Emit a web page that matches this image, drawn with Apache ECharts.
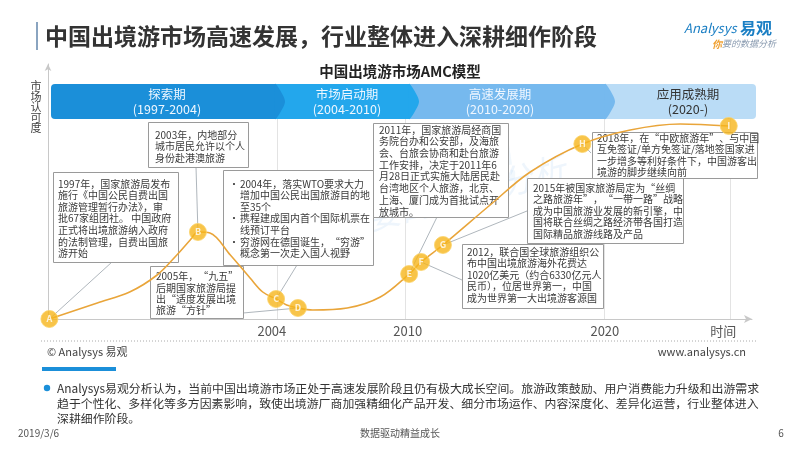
<!DOCTYPE html>
<html>
<head>
<meta charset="utf-8">
<script src="https://cdn.jsdelivr.net/npm/echarts@6/dist/echarts.min.js"></script>
<style>
html, body { margin: 0; padding: 0; background: #fff; }
#main { width: 800px; height: 450px; }
</style>
</head>
<body>
<div id="main"></div>
<script>
var FONT = '"Noto Sans CJK SC", "Noto Sans", sans-serif';

// AMC曲线 (横轴: 阶段位置 0-100, 纵轴: 市场认可度 0-100)
var curveX = [0.2, 7.0, 11.6, 15.5, 18.3, 20.2, 21.3, 23.0, 25.9, 28.7, 30.5, 32.4, 33.9, 35.5, 37.6, 42.5, 47.2, 51.3, 53.0, 56.1, 62.8, 68.5, 75.9, 82.7, 89.8, 96.7];
var curveY = [0, 8, 13.5, 22, 32, 39.5, 43.5, 43, 32, 20.5, 13.5, 10, 7, 5.5, 4.5, 5.5, 11, 22.5, 28.5, 37, 57, 73.5, 87.5, 94.5, 97.5, 96.5];

// 事件节点
var pointNames = ['A', 'B', 'C', 'D', 'E', 'F', 'G', 'H', 'I'];
var pointX = [0.2, 21.3, 32.4, 35.5, 51.3, 53.0, 56.1, 75.9, 96.7];
var pointY = [0, 43.5, 10, 5.5, 22.5, 28.5, 37, 87.5, 96.5];

// 横轴刻度
var tickPos = [31.8, 51.1, 79.1, 95.9];
var tickLabels = ['2004', '2010', '2020', '时间'];
var gridPos = [32.5, 50.7, 79.0, 96.9];

// 阶段
var stageNames = ['探索期', '市场启动期', '高速发展期', '应用成熟期'];
var stageYears = ['(1997-2004)', '(2004-2010)', '(2010-2020)', '(2020-)'];

// 注释文字
var notes = {
    A: ['1997年，国家旅游局发布', '施行《中国公民自费出国', '旅游管理暂行办法》，审', '批67家组团社。 中国政府', '正式将出境旅游纳入政府', '的法制管理，自费出国旅', '游开始'],
    B: ['2003年，内地部分', '城市居民允许以个人', '身份赴港澳旅游'],
    C: ['2004年，落实WTO要求大力', '增加中国公民出国旅游目的地', '至35个', '携程建成国内首个国际机票在', '线预订平台', '穷游网在德国诞生，“穷游”', '概念第一次走入国人视野'],
    D: ['2005年，“九五”', '后期国家旅游局提', '出“适度发展出境', '旅游“方针”'],
    E: ['2011年，国家旅游局经商国', '务院台办和公安部，及海旅', '会、台旅会协商和赴台旅游', '工作安排，决定于2011年6', '月28日正式实施大陆居民赴', '台湾地区个人旅游，北京、', '上海、厦门成为首批试点开', '放城市。'],
    F: ['2012，联合国全球旅游组织公', '布中国出境旅游海外花费达', '1020亿美元（约合6330亿元人', '民币），位居世界第一，中国', '成为世界第一大出境游客源国'],
    G: ['2015年被国家旅游局定为“丝绸', '之路旅游年”，“一带一路”战略', '成为中国旅游业发展的新引擎，中', '国将联合丝绸之路经济带各国打造', '国际精品旅游线路及产品'],
    H: ['2018年，在“中欧旅游年”、与中国', '互免签证/单方免签证/落地签国家进', '一步增多等利好条件下，中国游客出', '境游的脚步继续向前']
};
var bulletLines = { C: [0, 3, 5] };

var summaryLines = [
    'Analysys易观分析认为，当前中国出境游市场正处于高速发展阶段且仍有极大成长空间。旅游政策鼓励、用户消费能力升级和出游需求',
    '趋于个性化、多样化等多方因素影响，致使出境游厂商加强精细化产品开发、细分市场运作、内容深度化、差异化运营，行业整体进入',
    '深耕细作阶段。'
];

// 注释框布局
var boxLayout = {
    A: { x: 53, y: 172, w: 125, h: 90, tx: 58, ty: 178, lh: 11.6, anchor: [112, 262] },
    B: { x: 148, y: 122, w: 100, h: 45, tx: 155, ty: 129, lh: 11.6, anchor: [196, 167] },
    C: { x: 223, y: 170, w: 150, h: 95, tx: 240, ty: 178, lh: 11.6, anchor: [297, 265] },
    D: { x: 150, y: 266, w: 93, h: 52, tx: 156, ty: 271, lh: 11.2, anchor: [243, 313] },
    E: { x: 373, y: 123, w: 135, h: 94, tx: 379, ty: 124, lh: 11.7, anchor: [437, 217] },
    F: { x: 462, y: 244, w: 141, h: 64, tx: 467, ty: 246, lh: 11.6, anchor: [462, 280] },
    G: { x: 527, y: 178, w: 156, h: 65, tx: 533, ty: 182, lh: 11.6, anchor: [527, 211] },
    H: { x: 592, y: 132, w: 165, h: 46, tx: 597, ty: 132, lh: 11.6, anchor: [591, 153] }
};

var chart = echarts.init(document.getElementById('main'), null, { renderer: 'canvas' });

var gridLineData = gridPos.map(function (v) {
    return [{ coord: [v, 0] }, { coord: [v, 100] }];
});

chart.setOption({
    animation: false,
    textStyle: { fontFamily: FONT },
    grid: { left: 48, right: 48, top: 64, bottom: 131 },
    xAxis: {
        type: 'value', min: 0, max: 100,
        axisLine: { show: true, symbol: ['none', 'arrow'], symbolSize: [6, 8], lineStyle: { color: '#c8c8c8', width: 1 } },
        axisTick: { show: false },
        splitLine: { show: false },
        axisLabel: {
            customValues: tickPos,
            margin: 6,
            color: '#555', fontSize: 13, fontFamily: FONT,
            formatter: function (v) {
                var best = 0;
                for (var i = 1; i < tickPos.length; i++) {
                    if (Math.abs(tickPos[i] - v) < Math.abs(tickPos[best] - v)) best = i;
                }
                return tickLabels[best];
            }
        }
    },
    yAxis: {
        type: 'value', min: 0, max: 127.5,
        axisLine: { show: true, symbol: ['none', 'arrow'], symbolSize: [5, 7], lineStyle: { color: '#c8c8c8', width: 1 } },
        axisTick: { show: false },
        axisLabel: { show: false },
        splitLine: { show: false }
    },
    series: [{
        type: 'line',
        z: 5,
        smooth: 0.35,
        showSymbol: false,
        lineStyle: { color: '#e9a53a', width: 1.6 },
        data: curveX.map(function (x, i) { return [x, curveY[i]]; }),
        markLine: {
            z: 1, silent: true, symbol: 'none',
            label: { show: false },
            lineStyle: { color: '#e3e3e3', type: 'solid', width: 1 },
            data: gridLineData
        }
    }, {
        type: 'scatter',
        z: 6,
        symbolSize: 17,
        itemStyle: { color: '#f6b51b', borderColor: '#fbd36a', borderWidth: 1 },
        label: { show: true, position: 'inside', formatter: '{b}', color: '#fff', fontSize: 9, fontWeight: 'bold', fontFamily: FONT },
        data: pointNames.map(function (n, i) { return { name: n, value: [pointX[i], pointY[i]] }; })
    }]
});

var g = [];

// 标题
g.push({ type: 'rect', z: 2, shape: { x: 36, y: 22, width: 2, height: 28 }, style: { fill: '#8aa4c0' } });
g.push({ type: 'text', z: 2, x: 45, y: 36, style: { text: '中国出境游市场高速发展，行业整体进入深耕细作阶段', fill: '#333', font: 'bold 23px ' + FONT, textVerticalAlign: 'middle' } });
g.push({ type: 'text', z: 2, x: 684, y: 28, style: {
    text: '{a|Analysys} {b|易观}', textVerticalAlign: 'middle',
    rich: { a: { fill: '#1b7fc4', font: 'italic 13px ' + FONT }, b: { fill: '#1b7fc4', font: 'bold 16px ' + FONT } }
} });
g.push({ type: 'text', z: 2, x: 712, y: 44, style: {
    text: '{a|你}{b|要的数据分析}', textVerticalAlign: 'middle',
    rich: { a: { fill: '#f0a030', font: 'italic bold 10px ' + FONT }, b: { fill: '#8a9bb0', font: 'italic 9px ' + FONT } }
} });
g.push({ type: 'text', z: 2, x: 400, y: 71, style: { text: '中国出境游市场AMC模型', fill: '#222', font: 'bold 14.5px ' + FONT, textAlign: 'center', textVerticalAlign: 'middle' } });
g.push({ type: 'text', z: 2, x: 36, y: 107, style: { text: '市\n场\n认\n可\n度', fill: '#444', font: '11px ' + FONT, lineHeight: 10.5, textAlign: 'center', textVerticalAlign: 'middle' } });

// 水印
g.push({ type: 'text', z: 1, x: 330, y: 210, rotation: 0.25, style: { text: '你要的数据分析', fill: 'rgba(90,160,225,0.10)', font: 'italic 34px ' + FONT } });
g.push({ type: 'text', z: 1, x: 420, y: 150, rotation: 0.15, style: { text: '易观', fill: 'rgba(90,160,225,0.08)', font: 'bold 46px ' + FONT } });

// 阶段色带
var bandEdges = [51, 276, 410, 606, 756];
var bandColors = ['#1b8fd9', '#23a7ec', '#76b9ee', '#badcf6'];
var bandTextColors = ['#eef7ff', '#eef7ff', '#eef6ff', '#333'];
var bandLabelX = [167, 347, 500, 688];
var bTop = 84, bBot = 119, bMid = (84 + 119) / 2;
for (var i = 3; i >= 0; i--) {
    var x0 = bandEdges[i], x1 = bandEdges[i + 1];
    g.push({ type: 'rect', z: 2, shape: { x: x0, y: bTop, width: x1 - x0, height: bBot - bTop, r: i === 0 ? [4, 0, 0, 4] : (i === 3 ? [0, 4, 4, 0] : 0) }, style: { fill: bandColors[i] } });
    if (i < 3) {
        g.push({ type: 'polygon', z: 2, shape: { points: [[x1 - 1, bTop], [x1 + 4, bTop + 6], [x1 + 9, bMid], [x1 + 4, bBot - 6], [x1 - 1, bBot]], smooth: 0.3 }, style: { fill: bandColors[i] } });
    }
    g.push({ type: 'text', z: 3, x: bandLabelX[i], y: bMid, style: { text: stageNames[i] + '\n' + stageYears[i], fill: bandTextColors[i], font: '12.5px ' + FONT, lineHeight: 14.5, textAlign: 'center', textVerticalAlign: 'middle' } });
}

// 注释框与引线
pointNames.forEach(function (n, idx) {
    var b = boxLayout[n];
    if (!b) return;
    var p = chart.convertToPixel({ gridIndex: 0 }, [pointX[idx], pointY[idx]]);
    g.push({ type: 'line', z: 3, shape: { x1: b.anchor[0], y1: b.anchor[1], x2: p[0], y2: p[1] }, style: { stroke: '#9aa3ab', lineWidth: 0.8 } });
    g.push({ type: 'rect', z: 3, shape: { x: b.x + 0.5, y: b.y + 0.5, width: b.w, height: b.h }, style: { fill: '#fff', stroke: '#9a9a9a', lineWidth: 1 } });
    g.push({ type: 'text', z: 4, x: b.tx, y: b.ty, style: { text: notes[n].join('\n'), fill: '#3a3a3a', font: '10px ' + FONT, lineHeight: b.lh } });
    (bulletLines[n] || []).forEach(function (li) {
        g.push({ type: 'text', z: 4, x: b.x + 6, y: b.ty + li * b.lh, style: { text: '•', fill: '#3a3a3a', font: '10px ' + FONT, lineHeight: b.lh } });
    });
});

// 底部
g.push({ type: 'line', z: 2, shape: { x1: 41, y1: 341, x2: 756, y2: 341 }, style: { stroke: '#aaa', lineWidth: 1, lineDash: [1, 2] } });
g.push({ type: 'text', z: 2, x: 47, y: 352, style: { text: '© Analysys 易观', fill: '#444', font: '11px ' + FONT, textVerticalAlign: 'middle' } });
g.push({ type: 'text', z: 2, x: 746, y: 352, style: { text: 'www.analysys.cn', fill: '#444', font: '11px ' + FONT, textAlign: 'right', textVerticalAlign: 'middle' } });
g.push({ type: 'rect', z: 2, shape: { x: 42, y: 367, width: 74, height: 4 }, style: { fill: '#1b8fd9' } });
g.push({ type: 'circle', z: 2, shape: { cx: 47, cy: 388, r: 3.2 }, style: { fill: '#1b8fd9' } });
g.push({ type: 'text', z: 2, x: 57, y: 380.5, style: { text: summaryLines.join('\n'), fill: '#333', font: '11.9px ' + FONT, lineHeight: 15, textVerticalAlign: 'top' } });
g.push({ type: 'text', z: 2, x: 18, y: 433, style: { text: '2019/3/6', fill: '#555', font: '10px ' + FONT, textVerticalAlign: 'middle' } });
g.push({ type: 'text', z: 2, x: 400, y: 433, style: { text: '数据驱动精益成长', fill: '#555', font: '10px ' + FONT, textAlign: 'center', textVerticalAlign: 'middle' } });
g.push({ type: 'text', z: 2, x: 781, y: 433, style: { text: '6', fill: '#555', font: '10px ' + FONT, textAlign: 'center', textVerticalAlign: 'middle' } });

chart.setOption({ graphic: { elements: g } });
</script>
</body>
</html>
